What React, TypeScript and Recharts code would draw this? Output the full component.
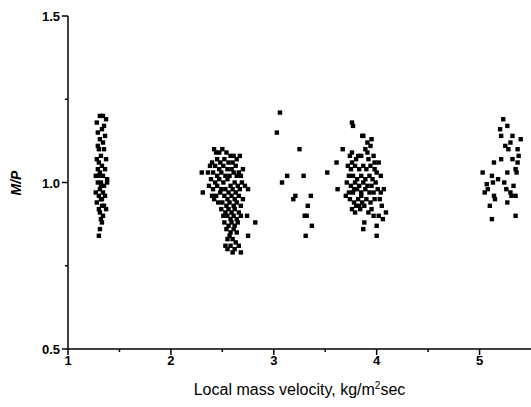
import { ScatterChart, Scatter, XAxis, YAxis, Label } from "recharts";

// [local mass velocity, M/P], one array per test group
const group1: [number, number][] = [
  [1.34, 1.2], [1.31, 1.2], [1.28, 1.18], [1.37, 1.19], [1.33, 1.16], [1.29, 1.15],
  [1.36, 1.14], [1.31, 1.13], [1.34, 1.12], [1.3, 1.1], [1.35, 1.1], [1.32, 1.08],
  [1.28, 1.07], [1.37, 1.07], [1.3, 1.06], [1.33, 1.05], [1.29, 1.04], [1.36, 1.04],
  [1.31, 1.03], [1.34, 1.02], [1.27, 1.02], [1.38, 1.01], [1.32, 1.0], [1.29, 1.0],
  [1.35, 0.99], [1.31, 0.98], [1.27, 0.97], [1.34, 0.97], [1.3, 0.96], [1.36, 0.96],
  [1.32, 0.95], [1.28, 0.94], [1.33, 0.93], [1.35, 0.93], [1.3, 0.92], [1.37, 0.92],
  [1.31, 0.91], [1.34, 0.9], [1.32, 0.89], [1.33, 0.88], [1.31, 0.86], [1.3, 0.84],
  [1.38, 1.0], [1.29, 1.11], [1.35, 1.17], [1.32, 0.99], [1.3, 1.02], [1.33, 0.95],
];

const group2: [number, number][] = [
  [2.42, 1.1], [2.44, 1.09], [2.47, 1.09], [2.5, 1.1], [2.54, 1.09], [2.58, 1.08],
  [2.61, 1.08], [2.64, 1.07], [2.67, 1.08], [2.45, 1.07], [2.52, 1.07], [2.56, 1.06],
  [2.4, 1.06], [2.6, 1.06], [2.48, 1.06],
  [2.38, 1.05], [2.43, 1.05], [2.47, 1.04], [2.51, 1.05], [2.55, 1.04], [2.59, 1.04],
  [2.63, 1.05], [2.66, 1.03], [2.7, 1.04], [2.36, 1.03], [2.41, 1.03], [2.45, 1.02],
  [2.49, 1.03], [2.53, 1.02], [2.57, 1.02], [2.61, 1.03], [2.64, 1.02], [2.68, 1.02],
  [2.3, 1.03], [2.39, 1.01],
  [2.43, 1.0], [2.47, 1.01], [2.51, 1.0], [2.55, 1.01], [2.58, 0.99], [2.62, 1.0],
  [2.65, 0.99], [2.69, 1.0], [2.72, 0.99], [2.37, 0.99], [2.41, 0.98], [2.45, 0.99],
  [2.49, 0.98], [2.53, 0.98], [2.56, 0.97], [2.6, 0.98], [2.63, 0.97], [2.67, 0.98],
  [2.31, 0.97], [2.75, 0.98],
  [2.4, 0.96], [2.44, 0.96], [2.48, 0.97], [2.52, 0.96], [2.55, 0.95], [2.59, 0.96],
  [2.62, 0.95], [2.66, 0.96], [2.7, 0.95], [2.46, 0.94], [2.5, 0.94], [2.54, 0.93],
  [2.57, 0.94], [2.61, 0.93], [2.64, 0.94], [2.68, 0.93], [2.42, 0.95],
  [2.49, 0.92], [2.53, 0.91], [2.56, 0.92], [2.59, 0.91], [2.62, 0.92], [2.66, 0.91],
  [2.51, 0.9], [2.55, 0.9], [2.58, 0.89], [2.61, 0.9], [2.64, 0.89], [2.74, 0.9],
  [2.82, 0.88], [2.68, 0.9],
  [2.52, 0.88], [2.56, 0.87], [2.59, 0.88], [2.62, 0.87], [2.65, 0.88], [2.54, 0.86],
  [2.58, 0.85], [2.61, 0.86], [2.64, 0.85], [2.57, 0.84], [2.75, 0.84],
  [2.55, 0.83], [2.6, 0.83], [2.63, 0.82], [2.53, 0.81], [2.58, 0.81], [2.62, 0.8],
  [2.55, 0.8], [2.66, 0.81], [2.68, 0.79], [2.6, 0.79],
];

const group3: [number, number][] = [
  [3.06, 1.21], [3.03, 1.15], [3.25, 1.1], [3.13, 1.02], [3.08, 1.0], [3.29, 1.02],
  [3.52, 1.03], [3.61, 1.06], [3.67, 1.1], [3.36, 0.96], [3.21, 0.96], [3.19, 0.95],
  [3.33, 0.93], [3.3, 0.9], [3.32, 0.9], [3.37, 0.87], [3.31, 0.84], [3.62, 0.98],
];

const group4: [number, number][] = [
  [3.76, 1.18], [3.77, 1.17], [3.87, 1.14], [3.91, 1.09], [3.97, 1.08], [3.82, 1.08],
  [3.92, 1.07], [4.0, 1.03], [4.04, 1.02], [3.85, 0.96], [3.92, 0.91], [4.02, 0.9],
  [4.09, 0.91], [4.06, 0.89], [4.0, 0.87], [3.88, 0.88], [3.87, 0.86], [4.0, 0.84],
  [3.83, 0.93], [3.78, 0.98], [3.76, 1.09], [3.76, 1.06], [3.86, 1.14],
  [3.72, 1.05], [3.75, 1.04], [3.79, 1.05], [3.83, 1.04], [3.87, 1.05], [3.9, 1.04],
  [3.94, 1.05], [3.98, 1.04], [3.73, 1.02], [3.77, 1.02], [3.81, 1.01], [3.85, 1.02],
  [3.89, 1.01], [3.93, 1.02], [3.96, 1.01], [3.71, 1.0], [3.75, 0.99], [3.79, 1.0],
  [3.83, 0.99], [3.87, 1.0], [3.91, 0.99], [3.95, 0.99], [3.99, 1.0], [3.73, 0.97],
  [3.77, 0.97], [3.81, 0.98], [3.85, 0.97], [3.89, 0.98], [3.93, 0.97], [3.97, 0.97],
  [4.01, 0.98], [3.74, 0.95], [3.78, 0.94], [3.82, 0.95], [3.86, 0.94], [3.9, 0.95],
  [3.94, 0.94], [3.98, 0.95], [4.03, 0.95], [3.76, 0.92], [3.8, 0.93], [3.84, 0.92],
  [3.88, 0.93], [3.95, 0.92], [4.05, 0.93], [3.8, 1.07], [3.85, 1.08], [3.89, 1.1],
  [3.94, 1.11], [3.98, 1.06], [4.02, 1.06], [3.74, 1.08], [3.95, 1.13], [3.91, 1.12],
  [4.04, 0.97], [4.07, 0.98], [3.7, 0.96], [3.79, 0.91], [3.97, 0.9],
];

const group5: [number, number][] = [
  [5.21, 1.14], [5.32, 1.14], [5.4, 1.13], [5.25, 1.11], [5.28, 1.1], [5.37, 1.1],
  [5.14, 1.06], [5.21, 1.07], [5.32, 1.07], [5.37, 1.06], [5.35, 1.04], [5.36, 1.03],
  [5.27, 1.03], [5.03, 1.03], [5.12, 1.02], [5.24, 1.0], [5.07, 0.995], [5.13, 1.0],
  [5.08, 0.98], [5.26, 0.98], [5.3, 0.97], [5.31, 0.96], [5.35, 0.96], [5.14, 0.96],
  [5.15, 0.95], [5.27, 0.94], [5.1, 0.93], [5.35, 0.9], [5.12, 0.89],
  [5.23, 1.19], [5.27, 1.17], [5.2, 1.16], [5.3, 1.12], [5.38, 1.08], [5.05, 0.97],
  [5.18, 1.01], [5.33, 0.99],
];

const xTicks = [1, 1.5, 2, 2.5, 3, 3.5, 4, 4.5, 5];
const xLabelTicks = [1, 2, 3, 4, 5];
const yTicks = [0.5, 0.75, 1.0, 1.25, 1.5];
const yLabelTicks = [0.5, 1.0, 1.5];

const points = [...group1, ...group2, ...group3, ...group4, ...group5].map(
  ([x, y]) => ({ x, y })
);

const FONT = "'Liberation Sans', Arial, sans-serif";

const XTick = (props: any) => {
  const { x, y, payload } = props;
  const major = xLabelTicks.includes(payload.value);
  return (
    <g>
      <line x1={x} x2={x} y1={y} y2={y + (major ? 6 : 3)} stroke="#000" strokeWidth={1.5} />
      {major && (
        <text x={x} y={y + 16} textAnchor="middle" fontSize={13} fontWeight="bold" fontFamily={FONT} fill="#000">
          {payload.value}
        </text>
      )}
    </g>
  );
};

const YTick = (props: any) => {
  const { x, y, payload } = props;
  const major = yLabelTicks.includes(payload.value);
  return (
    <g>
      <line x1={x - (major ? 6 : 3)} x2={x} y1={y} y2={y} stroke="#000" strokeWidth={1.5} />
      {major && (
        <text x={x - 8} y={y + 5} textAnchor="end" fontSize={13} fontWeight="bold" fontFamily={FONT} fill="#000">
          {payload.value.toFixed(1)}
        </text>
      )}
    </g>
  );
};

const Square = (props: any) => {
  const { cx, cy } = props;
  return <rect x={cx - 2.2} y={cy - 2.2} width={4.4} height={4.4} fill="#000" />;
};

export default function App() {
  return (
    <div style={{ position: "absolute", left: 0, top: 0, background: "#fff" }}>
      <ScatterChart width={531} height={407} margin={{ top: 16, right: 0, bottom: 8, left: 0 }}>
        <XAxis
          type="number"
          dataKey="x"
          domain={[1, 5.5]}
          ticks={xTicks}
          allowDataOverflow
          height={50}
          tickSize={0}
          tickMargin={0}
          tickLine={false}
          tick={<XTick />}
          axisLine={{ stroke: "#000", strokeWidth: 1.5 }}
        >
          <Label
            content={(p: any) => {
              const vb = p.viewBox;
              return (
                <text x={vb.x + vb.width / 2} y={vb.y + vb.height - 4} textAnchor="middle" fontSize={16} fontFamily={FONT} fill="#000">
                  Local mass velocity, kg/m
                  <tspan dy={-6} fontSize={10}>2</tspan>
                  <tspan dy={6}>sec</tspan>
                </text>
              );
            }}
          />
        </XAxis>
        <YAxis
          type="number"
          dataKey="y"
          domain={[0.5, 1.5]}
          ticks={yTicks}
          allowDataOverflow
          width={68}
          tickSize={0}
          tickMargin={0}
          tickLine={false}
          tick={<YTick />}
          axisLine={{ stroke: "#000", strokeWidth: 1.5 }}
        >
          <Label
            content={() => (
              <text transform="translate(21,183) rotate(-90)" textAnchor="middle" fontSize={14} fontWeight="bold" fontStyle="italic" fontFamily={FONT} fill="#000">
                M/P
              </text>
            )}
          />
        </YAxis>
        <Scatter data={points} fill="#000" shape={<Square />} isAnimationActive={false} />
      </ScatterChart>
    </div>
  );
}
